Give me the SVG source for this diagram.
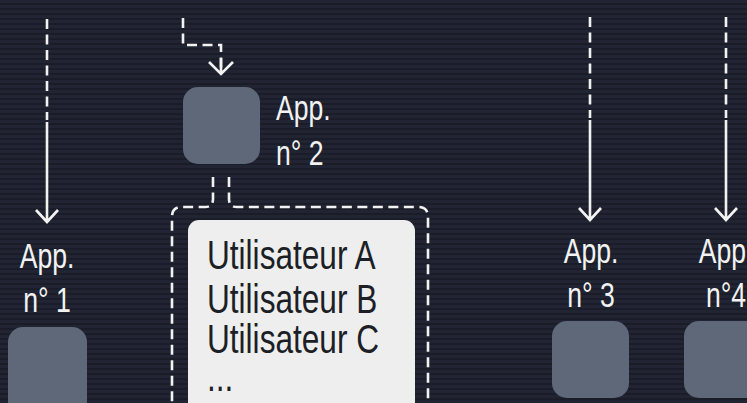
<svg xmlns="http://www.w3.org/2000/svg" width="747" height="403" viewBox="0 0 747 403">
<defs>
<pattern id="scan" width="8" height="5" patternUnits="userSpaceOnUse">
<rect width="8" height="5" fill="#212533"/>
<rect y="3" width="8" height="2" fill="#1a1d28"/>
</pattern>
</defs>
<style>
.ln{fill:none;stroke:#f2f2f2;stroke-width:2.6}
.dsh{stroke-dasharray:10 5.5}
.app{fill:#5f6878}
.lbl{font-family:"Liberation Sans",Arial,sans-serif;font-size:35px;fill:#f2f2f2}
.usr{font-family:"Liberation Sans",Arial,sans-serif;font-size:40px;fill:#1c1f26}
</style>
<rect width="747" height="403" fill="url(#scan)"/>
<g id="connectors">
<path class="ln dsh" d="M47 19V120"/>
<path class="ln" d="M47 122V222M36 210L47 222L58 210"/>
<path class="ln dsh" d="M183 18V45H221V73"/>
<path class="ln" d="M221 58V74M209 62L221 74L233 62"/>
<path class="ln dsh" d="M590 17V118"/>
<path class="ln" d="M590 120V220M579 208L590 220L601 208"/>
<path class="ln dsh" d="M726 17V118"/>
<path class="ln" d="M726 120V220M715 208L726 220L737 208"/>
<path class="ln dsh" d="M213 177V199Q213 207 205 207H182Q172 207 172 217V403"/>
<path class="ln dsh" d="M229 177V199Q229 207 237 207H418Q428 207 428 217V403"/>
</g>
<g id="app1">
<rect class="app" x="8" y="327" width="79" height="90" rx="15"/>
<text class="lbl" text-anchor="middle" transform="translate(47 268) scale(0.76 1)">App.</text>
<text class="lbl" text-anchor="middle" transform="translate(47 312) scale(0.76 1)">n° 1</text>
</g>
<g id="app2">
<rect class="app" x="183" y="87" width="77" height="77" rx="15"/>
<text class="lbl" transform="translate(276 120) scale(0.76 1)">App.</text>
<text class="lbl" transform="translate(276 165) scale(0.76 1)">n° 2</text>
</g>
<g id="users">
<rect x="188" y="220" width="227" height="200" rx="11" fill="#eeeeee"/>
<text class="usr" transform="translate(207 269) scale(0.79 1)">Utilisateur A</text>
<text class="usr" transform="translate(207 313) scale(0.79 1)">Utilisateur B</text>
<text class="usr" transform="translate(207 353) scale(0.79 1)">Utilisateur C</text>
<text class="usr" transform="translate(207 391) scale(0.79 1)">...</text>
</g>
<g id="app3">
<rect class="app" x="552" y="321" width="77" height="77" rx="15"/>
<text class="lbl" text-anchor="middle" transform="translate(591 263) scale(0.76 1)">App.</text>
<text class="lbl" text-anchor="middle" transform="translate(591 307) scale(0.76 1)">n° 3</text>
</g>
<g id="app4">
<rect class="app" x="684" y="321" width="77" height="77" rx="15"/>
<text class="lbl" text-anchor="middle" transform="translate(726 263) scale(0.76 1)">App.</text>
<text class="lbl" text-anchor="middle" transform="translate(726 307) scale(0.76 1)">n°4</text>
</g>
</svg>
